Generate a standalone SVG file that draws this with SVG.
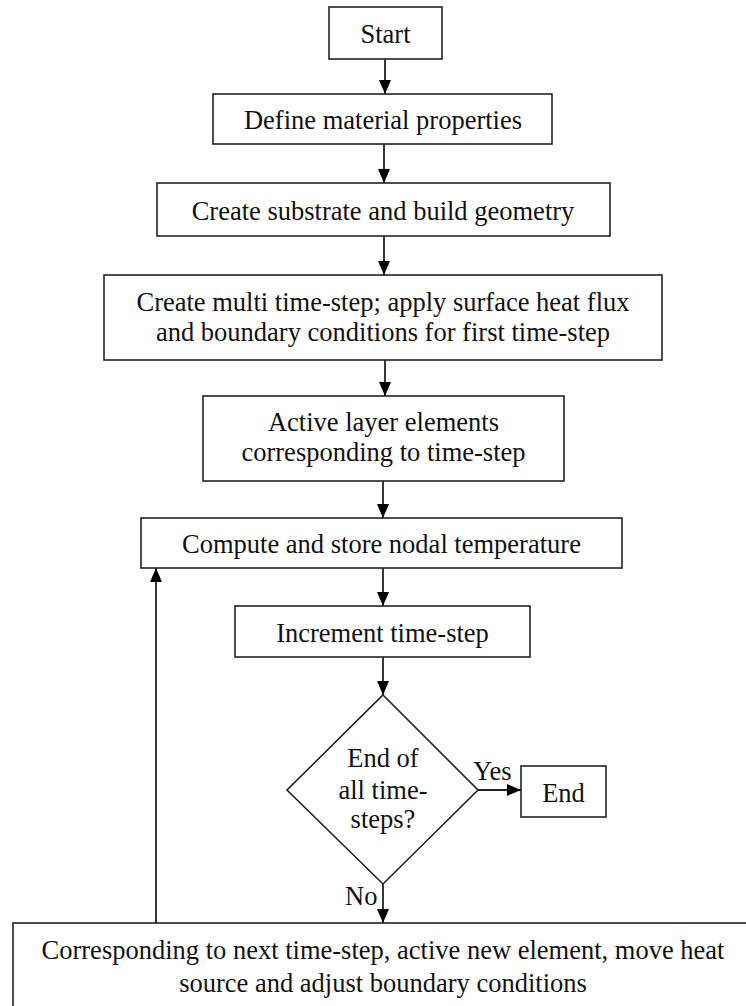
<svg xmlns="http://www.w3.org/2000/svg" width="746" height="1006" viewBox="0 0 746 1006">
<style>
.box{fill:#fff;stroke:#222;stroke-width:1.6}
.t{font-family:"Liberation Serif","Times New Roman",serif;font-size:26.5px;fill:#111;text-anchor:middle}
.lbl{font-family:"Liberation Serif","Times New Roman",serif;font-size:26.5px;fill:#111}
.c{fill:none;stroke:#222;stroke-width:1.8}
</style>
<defs>
<marker id="ah" viewBox="0 0 14 12" refX="14" refY="6" markerWidth="14" markerHeight="12" markerUnits="userSpaceOnUse" orient="auto">
<path d="M0,0 L14,6 L0,12 Z" fill="#000"/>
</marker>
</defs>
<rect width="746" height="1006" fill="#fff"/>
<g id="connectors">
<line class="c" x1="385" y1="59" x2="385" y2="94" marker-end="url(#ah)"/>
<line class="c" x1="384" y1="144" x2="384" y2="183" marker-end="url(#ah)"/>
<line class="c" x1="384" y1="236" x2="384" y2="275" marker-end="url(#ah)"/>
<line class="c" x1="385" y1="360" x2="385" y2="396" marker-end="url(#ah)"/>
<line class="c" x1="383" y1="481" x2="383" y2="518" marker-end="url(#ah)"/>
<line class="c" x1="383" y1="568" x2="383" y2="606" marker-end="url(#ah)"/>
<line class="c" x1="383" y1="657" x2="383" y2="695" marker-end="url(#ah)"/>
<line class="c" x1="478" y1="790" x2="521" y2="790" marker-end="url(#ah)"/>
<line class="c" x1="383" y1="884" x2="383" y2="923" marker-end="url(#ah)"/>
<line class="c" x1="156" y1="923" x2="156" y2="568" marker-end="url(#ah)"/>
<text class="lbl" x="473" y="780">Yes</text>
<text class="lbl" x="345" y="905">No</text>
</g>
<g id="start">
<rect class="box" x="329" y="7" width="113" height="52"/>
<text class="t" x="385.5" y="43">Start</text>
</g>
<g id="define">
<rect class="box" x="213" y="94" width="339" height="50"/>
<text class="t" x="383" y="129">Define material properties</text>
</g>
<g id="create">
<rect class="box" x="157" y="183" width="453" height="53"/>
<text class="t" x="383" y="220">Create substrate and build geometry</text>
</g>
<g id="multi">
<rect class="box" x="104" y="275" width="558" height="85"/>
<text class="t" x="383" y="311">Create multi time-step; apply surface heat flux</text>
<text class="t" x="383" y="341">and boundary conditions for first time-step</text>
</g>
<g id="active">
<rect class="box" x="203" y="396" width="361" height="85"/>
<text class="t" x="383.5" y="431">Active layer elements</text>
<text class="t" x="383.5" y="461">corresponding to time-step</text>
</g>
<g id="compute">
<rect class="box" x="141" y="518" width="481" height="50"/>
<text class="t" x="381.5" y="553">Compute and store nodal temperature</text>
</g>
<g id="increment">
<rect class="box" x="235" y="606" width="295" height="51"/>
<text class="t" x="382.5" y="642">Increment time-step</text>
</g>
<g id="decision">
<polygon class="box" points="383,695 478,790 383,884 287,790"/>
<text class="t" x="383" y="767">End of</text>
<text class="t" x="383" y="799">all time-</text>
<text class="t" x="383" y="828">steps?</text>
</g>
<g id="end">
<rect class="box" x="521" y="766" width="85" height="51"/>
<text class="t" x="563.5" y="802">End</text>
</g>
<g id="next">
<rect class="box" x="13" y="923" width="760" height="100"/>
<text class="t" x="383" y="959">Corresponding to next time-step, active new element, move heat</text>
<text class="t" x="383" y="992">source and adjust boundary conditions</text>
</g>
</svg>
